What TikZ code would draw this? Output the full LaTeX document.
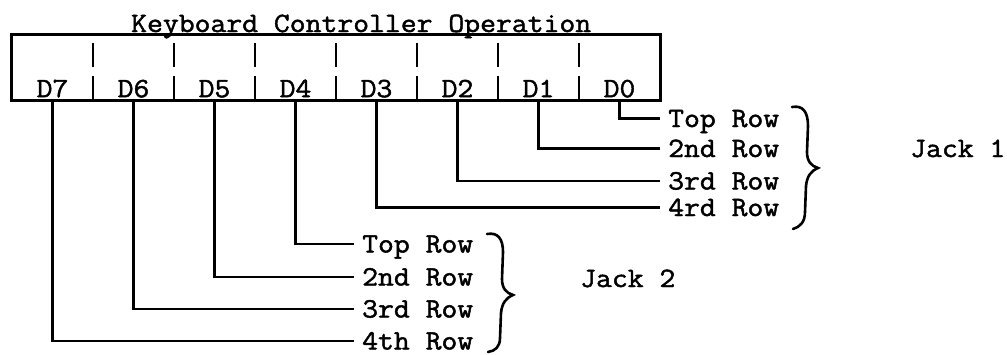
\documentclass[tikz,border=0pt]{standalone}
\usepackage{fontspec}
\newfontfamily\tw[FakeStretch=1.1,FakeBold=1.6]{Latin Modern Mono}
\begin{document}
\begin{tikzpicture}[x=1pt,y=-1pt,
  txt/.style={font=\tw\fontsize{28}{32}\selectfont, inner sep=0pt},
  cell/.style={minimum width=81pt, minimum height=65pt, inner sep=0pt},
  rowlbl/.style={txt, anchor=west, text height=17pt, text depth=0pt, inner xsep=8pt, inner ysep=0pt},
  wire/.style={line width=2.6pt},
  frame/.style={line width=3pt},
  tick/.style={line width=1.8pt},
  bracestroke/.style={line width=2.6pt, line cap=round}
]
\useasboundingbox[fill=white] (0,0) rectangle (1007,354);
% cells
\foreach \i in {0,...,7} \node[cell] (c\i) at ({660-40.5-81*\i},67.5) {};
\draw[frame] (c7.north west) rectangle (c0.south east);
\foreach \i in {0,...,6} {
  \draw[tick] ([yshift=-8pt]c\i.north west) -- ([yshift=-32pt]c\i.north west);
  \draw[tick] ([yshift=-41pt]c\i.north west) -- (c\i.south west);
}
\foreach \i in {0,...,7} \node[txt, anchor=base] (l\i) at ([yshift=3pt]c\i.south) {D\i};
% title
\node[txt, anchor=base west] (title) at (131,32) {Keyboard Controller Operation};
% jack 1 rows
\node[rowlbl] (ja) at (660,118.5) {Top Row};
\node[rowlbl] (jb) at (660,148.5) {2nd Row};
\node[rowlbl] (jc) at (660,181) {3rd Row};
\node[rowlbl] (jd) at (660,207.5) {4rd Row};
\draw[wire] (c0.south) |- (ja.west);
\draw[wire] (c1.south) |- (jb.west);
\draw[wire] (c2.south) |- (jc.west);
\draw[wire] (c3.south) |- (jd.west);
% jack 2 rows
\node[rowlbl] (ka) at (354,244) {Top Row};
\node[rowlbl] (kb) at (354,277) {2nd Row};
\node[rowlbl] (kc) at (354,309) {3rd Row};
\node[rowlbl] (kd) at (354,341) {4th Row};
\draw[wire] (c4.south) |- (ka.west);
\draw[wire] (c5.south) |- (kb.west);
\draw[wire] (c6.south) |- (kc.west);
\draw[wire] (c7.south) |- (kd.west);
% braces
\draw[bracestroke] (792,107) .. controls (803,105) and (808,112) .. (808,126) -- (807,152) .. controls (807,161) and (811,166) .. (818,168) .. controls (811,171) and (807,176) .. (806,186) -- (805,212) .. controls (805,222) and (800,227) .. (793,229);
\draw[bracestroke] (487,234) .. controls (498,232) and (503,239) .. (503,252) -- (502,279) .. controls (502,288) and (506,293) .. (513,295) .. controls (506,298) and (502,303) .. (501,313) -- (500,338) .. controls (500,347) and (495,351) .. (488,352);
% jack labels
\node[txt, anchor=base west] (jack1) at (910,157) {Jack 1};
\node[txt, anchor=base west] (jack2) at (580,287) {Jack 2};
\end{tikzpicture}
\end{document}
